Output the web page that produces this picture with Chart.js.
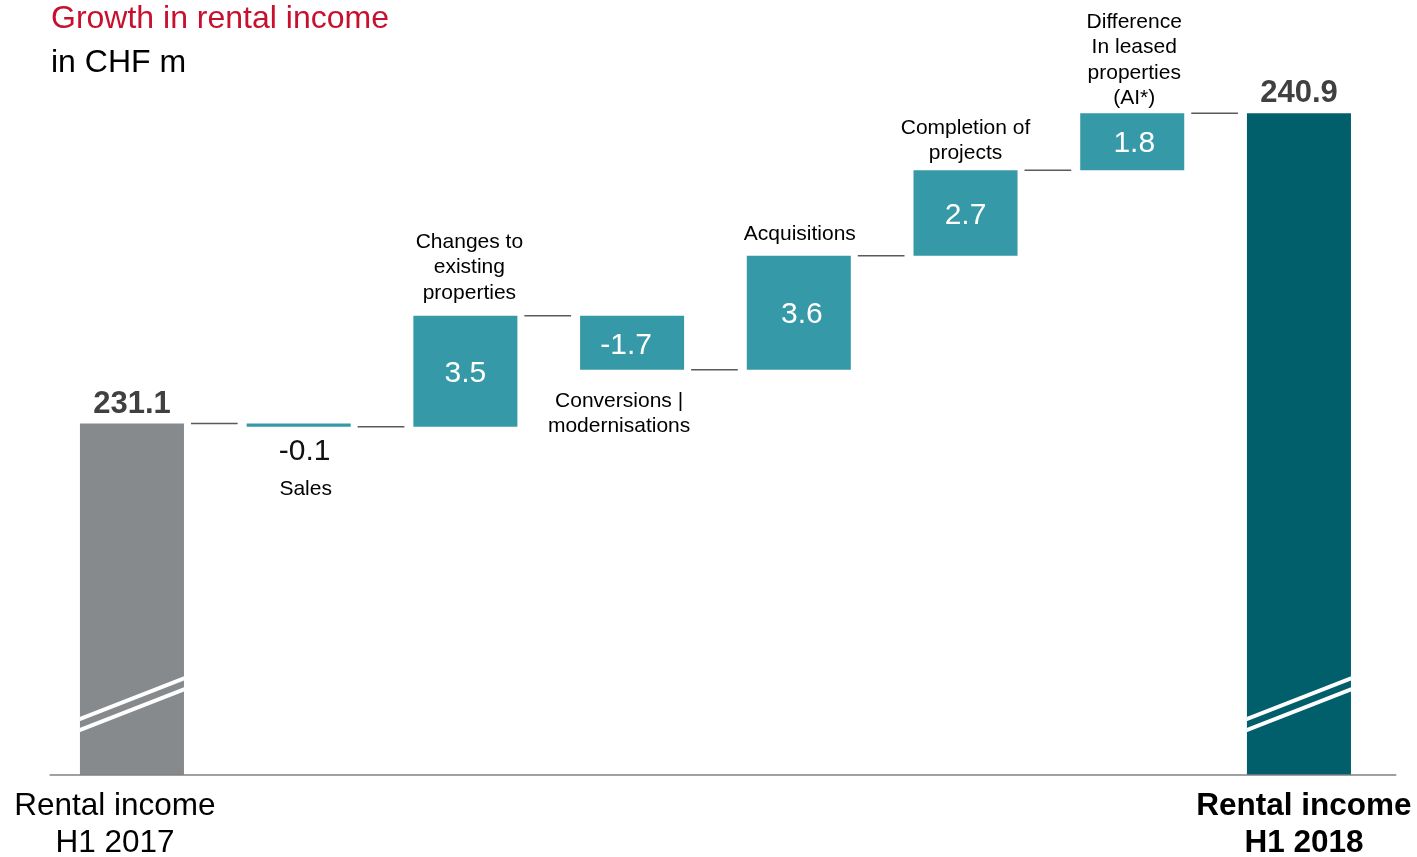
<!DOCTYPE html>
<html>
<head>
<meta charset="utf-8">
<title>Growth in rental income</title>
<script src="https://cdn.jsdelivr.net/npm/chart.js@4.4.1/dist/chart.umd.min.js"></script>
<style>
  html, body { margin: 0; padding: 0; background: #ffffff; }
  canvas { display: block; }
</style>
</head>
<body>
<canvas id="chart" width="1417" height="857"></canvas>
<script>
// ---- data -------------------------------------------------------------
const chartTitle = 'Growth in rental income';
const chartUnit = 'in CHF m';

const axisLabels = [['Rental income', 'H1 2017'], '', '', '', '', '', '', ['Rental income', 'H1 2018']];
const stepNames = [
  null,
  ['Sales'],
  ['Changes to', 'existing', 'properties'],
  ['Conversions |', 'modernisations'],
  ['Acquisitions'],
  ['Completion of', 'projects'],
  ['Difference', 'In leased', 'properties', '(AI*)'],
  null
];
const openingIncome = 231.1;
const stepChanges = [-0.1, 3.5, -1.7, 3.6, 2.7, 1.8];
const closingIncome = 240.9;
const axisFloor = 220;     // value axis is cut below this level
const axisCeiling = 244;

// ---- waterfall ranges built from the values above ----------------------
const ranges = [[axisFloor, openingIncome]];
const kinds = ['total'];
const shownValues = [openingIncome];
let running = openingIncome;
stepChanges.forEach(d => {
  const next = Math.round((running + d) * 10) / 10;
  ranges.push([running, next]);
  kinds.push('step');
  shownValues.push(d);
  running = next;
});
ranges.push([axisFloor, closingIncome]);
kinds.push('total');
shownValues.push(closingIncome);

// ---- styling -----------------------------------------------------------
const FONT = '"Liberation Sans", Arial, Helvetica, sans-serif';
const COLORS = {
  opening: '#878a8d',
  step: '#3599a7',
  closing: '#005f6b',
  title: '#c8102e',
  total: '#404040',
  connector: '#5a5a5a',
  baseline: '#808080'
};
const barColors = ranges.map((r, i) =>
  i === 0 ? COLORS.opening : (i === ranges.length - 1 ? COLORS.closing : COLORS.step));

// text placement tweaks per bar (pixels)
const LAYOUT = {
  nameGap: [0, 0, 17, 0, 16, 11, 9, 0],        // gap between bar top and the name above it
  nameShiftX: [0, 7, 4, -13, 1, 0, 2, 0],       // horizontal nudge of step names
  valueShiftX: [0, 6, 0, -6, 3, 0, 2, 0],       // horizontal nudge of value labels
  axisShiftX: [-17, 0, 0, 0, 0, 0, 0, 5],       // horizontal nudge of the axis captions
  axisBaselines: [815, 852]
};

// Draws heading, connectors, axis break marks, captions and value labels.
const waterfallDecor = {
  id: 'waterfallDecor',
  afterDatasetsDraw(chart) {
    const ctx = chart.ctx;
    const area = chart.chartArea;
    const yScale = chart.scales.y;
    const xScale = chart.scales.x;
    const bars = chart.getDatasetMeta(0).data;

    const geom = bars.map(b => {
      const top = Math.min(b.y, b.base), bottom = Math.max(b.y, b.base);
      return { x: b.x, left: b.x - b.width / 2, right: b.x + b.width / 2, top, bottom, width: b.width };
    });

    ctx.save();

    // base line
    ctx.strokeStyle = COLORS.baseline;
    ctx.lineWidth = 1.5;
    ctx.beginPath();
    ctx.moveTo(area.left + 1, area.bottom);
    ctx.lineTo(area.right + 14, area.bottom);
    ctx.stroke();

    // break marks on the two total bars
    geom.forEach((g, i) => {
      if (kinds[i] !== 'total') return;
      ctx.save();
      ctx.beginPath();
      ctx.rect(g.left, g.top, g.width, g.bottom - g.top);
      ctx.clip();
      ctx.strokeStyle = '#ffffff';
      ctx.lineWidth = 4;
      const rise = g.width * 0.39;
      [56, 45].forEach(off => {
        ctx.beginPath();
        ctx.moveTo(g.left - 4, g.bottom - off + 4 * 0.39);
        ctx.lineTo(g.right + 4, g.bottom - off - rise - 4 * 0.39);
        ctx.stroke();
      });
      ctx.restore();
    });

    // connectors between consecutive bars
    ctx.strokeStyle = COLORS.connector;
    ctx.lineWidth = 1.5;
    for (let i = 0; i < geom.length - 1; i++) {
      const y = yScale.getPixelForValue(ranges[i][1]);
      ctx.beginPath();
      ctx.moveTo(geom[i].right + 7, y);
      ctx.lineTo(geom[i + 1].left - 9, y);
      ctx.stroke();
    }

    // value labels and step names
    ctx.textAlign = 'center';
    geom.forEach((g, i) => {
      const v = shownValues[i];
      const text = v.toFixed(1);
      const vx = g.x + LAYOUT.valueShiftX[i];
      if (kinds[i] === 'total') {
        ctx.font = 'bold 31px ' + FONT;
        ctx.fillStyle = COLORS.total;
        ctx.textBaseline = 'alphabetic';
        ctx.fillText(text, vx, g.top - 11);
        return;
      }
      let belowBase = g.bottom;
      ctx.font = '30px ' + FONT;
      if (Math.abs(v) >= 1) {
        ctx.fillStyle = '#ffffff';
        ctx.textBaseline = 'middle';
        ctx.fillText(text, vx, (g.top + g.bottom) / 2 + 2.5);
      } else {
        ctx.fillStyle = '#111111';
        ctx.textBaseline = 'alphabetic';
        belowBase = g.bottom + 33;
        ctx.fillText(text, vx, belowBase);
      }
      const lines = stepNames[i];
      if (!lines) return;
      ctx.font = '21px ' + FONT;
      ctx.fillStyle = '#000000';
      ctx.textBaseline = 'alphabetic';
      const lh = 25.5;
      const nx = g.x + LAYOUT.nameShiftX[i];
      if (v > 0) {
        const last = g.top - LAYOUT.nameGap[i];
        lines.forEach((ln, k) => ctx.fillText(ln, nx, last - (lines.length - 1 - k) * lh));
      } else {
        const first = Math.abs(v) >= 1 ? g.bottom + 37 : belowBase + 35;
        lines.forEach((ln, k) => ctx.fillText(ln, nx, first + k * lh));
      }
    });

    // axis captions under the opening and closing bars
    chart.data.labels.forEach((lab, i) => {
      if (!lab || !lab.length) return;
      const lines = Array.isArray(lab) ? lab : [lab];
      const bold = i === chart.data.labels.length - 1;
      ctx.font = (bold ? 'bold ' : '') + '31.5px ' + FONT;
      ctx.fillStyle = '#000000';
      ctx.textAlign = 'center';
      ctx.textBaseline = 'alphabetic';
      const cx = xScale.getPixelForTick(i) + LAYOUT.axisShiftX[i];
      lines.forEach((ln, k) => ctx.fillText(ln, cx, LAYOUT.axisBaselines[k]));
    });

    // heading
    ctx.textAlign = 'left';
    ctx.textBaseline = 'alphabetic';
    ctx.font = '32px ' + FONT;
    ctx.fillStyle = COLORS.title;
    ctx.fillText(chartTitle, 51, 28);
    ctx.fillStyle = '#000000';
    ctx.fillText(chartUnit, 51, 72);

    ctx.restore();
  }
};

new Chart(document.getElementById('chart'), {
  type: 'bar',
  data: {
    labels: axisLabels,
    datasets: [{
      data: ranges,
      backgroundColor: barColors,
      borderWidth: 0,
      barPercentage: 0.624,
      categoryPercentage: 1.0
    }]
  },
  options: {
    responsive: false,
    devicePixelRatio: 1,
    animation: false,
    layout: { padding: { top: 15, left: 48.6, right: 34.7, bottom: 0 } },
    plugins: {
      legend: { display: false },
      tooltip: { enabled: false },
      title: { display: false }
    },
    scales: {
      x: {
        offset: true,
        grid: { display: false, drawTicks: false },
        border: { display: false },
        ticks: { display: false },
        afterFit: (s) => { s.height = 82; }
      },
      y: {
        display: false,
        min: axisFloor,
        max: axisCeiling
      }
    }
  },
  plugins: [waterfallDecor]
});
</script>
</body>
</html>
